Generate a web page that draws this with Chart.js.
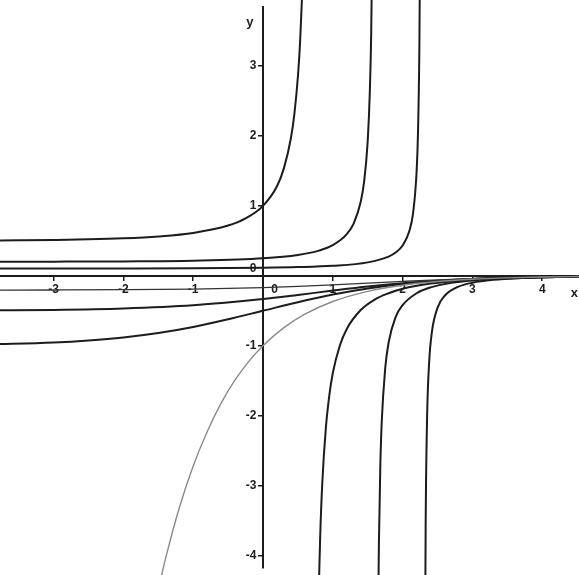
<!DOCTYPE html>
<html>
<head>
<meta charset="utf-8">
<script src="https://cdn.jsdelivr.net/npm/chart.js@4.4.1/dist/chart.umd.min.js"></script>
<style>
    html, body { margin: 0; padding: 0; background: #fff; }
    #wrap { width: 579px; height: 575px; }
</style>
</head>
<body>
<div id="wrap"><canvas id="fieldChart"></canvas></div>
<script>
// Tick values on the two axes
const xTicks = [-3, -2, -1, 0, 1, 2, 3, 4];
const yTicks = [-4, -3, -2, -1, 0, 1, 2, 3];

// Solution curves, as [x, y] pairs
// curve through (0, 1), blows up near x = 0.7
const curveAUpper = [[-3.9, 0.505], [-3.5, 0.508], [-3, 0.513], [-2.5, 0.521], [-2, 0.536], [-1.5, 0.563],
    [-1, 0.613], [-0.5, 0.718], [-0.25, 0.82], [0, 1], [0.2, 1.28], [0.3, 1.54], [0.4, 1.97], [0.45, 2.32],
    [0.5, 2.85], [0.53, 3.32], [0.56, 4.01], [0.58, 4.67]];
const curveALower = [[0.79, -4.92], [0.8, -4.44], [0.82, -3.7], [0.85, -2.95], [0.9, -2.18], [0.95, -1.71],
    [1.0, -1.39], [1.1, -1.0], [1.2, -0.76], [1.4, -0.49], [1.6, -0.34], [1.8, -0.25], [2.0, -0.186],
    [2.4, -0.111], [3.0, -0.055], [3.5, -0.032], [4.0, -0.019], [4.6, -0.01]];

// second pair, blows up near x = 1.6
const curveBUpper = [[-3.9, 0.2], [-3, 0.202], [-2, 0.206], [-1, 0.216], [0, 0.25], [0.5, 0.298], [0.8, 0.36],
    [1.0, 0.438], [1.2, 0.595], [1.3, 0.751], [1.4, 1.058], [1.45, 1.357], [1.5, 1.93], [1.53, 2.62],
    [1.55, 3.47], [1.57, 5.17]];
const curveBLower = [[1.65, -4.83], [1.66, -3.86], [1.68, -2.74], [1.7, -2.11], [1.75, -1.33], [1.8, -0.95],
    [1.9, -0.59], [2.0, -0.42], [2.2, -0.25], [2.4, -0.166], [2.7, -0.101], [3.0, -0.066], [3.5, -0.036],
    [4.0, -0.02], [4.6, -0.011]];

// third pair, blows up near x = 2.3
const curveCUpper = [[-3.9, 0.103], [-3, 0.104], [-2, 0.1045], [-1, 0.107], [0, 0.115], [0.5, 0.124],
    [1.0, 0.143], [1.5, 0.192], [1.8, 0.274], [1.9, 0.332], [2.0, 0.433], [2.1, 0.652], [2.15, 0.897],
    [2.2, 1.48], [2.22, 2.03], [2.24, 3.26], [2.25, 4.71]];
const curveCLower = [[2.32, -5.68], [2.33, -3.6], [2.35, -2.06], [2.38, -1.24], [2.42, -0.8], [2.5, -0.458],
    [2.6, -0.289], [2.8, -0.155], [3.0, -0.099], [3.3, -0.058], [3.7, -0.033], [4.2, -0.018], [4.6, -0.011]];

// negative curves that level off on the left
const curveD = [[-3.9, -0.98], [-3, -0.953], [-2.5, -0.924], [-2, -0.881], [-1.5, -0.818], [-1, -0.731],
    [-0.5, -0.622], [0, -0.5], [0.5, -0.378], [1.0, -0.269], [1.5, -0.182], [2.0, -0.119], [2.5, -0.076],
    [3.0, -0.047], [3.5, -0.029], [4.0, -0.018], [4.6, -0.01]];
const curveE = [[-3.9, -0.494], [-3, -0.488], [-2, -0.468], [-1, -0.422], [0, -0.333], [0.5, -0.274],
    [1.0, -0.212], [1.5, -0.154], [2.0, -0.107], [2.5, -0.071], [3.0, -0.045], [3.5, -0.029], [4.0, -0.018],
    [4.6, -0.01]];
const curveF = [[-3.9, -0.205], [-3, -0.203], [-2, -0.199], [-1, -0.19], [0, -0.17], [0.5, -0.152],
    [1.0, -0.13], [1.5, -0.106], [2.0, -0.081], [2.5, -0.058], [3.0, -0.04], [3.5, -0.026], [4.0, -0.017],
    [4.6, -0.01]];

// grey curve through (0, -1)
const curveGrey = [[-1.55, -4.71], [-1.4, -4.06], [-1.2, -3.32], [-1.0, -2.72], [-0.8, -2.23], [-0.6, -1.82],
    [-0.4, -1.49], [-0.2, -1.22], [0, -1], [0.3, -0.741], [0.6, -0.549], [1.0, -0.368], [1.5, -0.223],
    [2.0, -0.135], [2.5, -0.082], [3.0, -0.05], [3.5, -0.03], [4.0, -0.018], [4.6, -0.01]];

const ink = '#1c1c1c';

function curve(points, color, width) {
    return {
        data: points.map(([x, y]) => ({ x, y })),
        borderColor: color,
        borderWidth: width,
        pointRadius: 0,
        showLine: true,
        cubicInterpolationMode: 'monotone',
        clip: false
    };
}

// the little "x" and "y" names at the axis ends
const axisNames = {
    id: 'axisNames',
    afterDraw(chart) {
        const { ctx, scales: { x, y } } = chart;
        ctx.save();
        ctx.font = 'bold 13px "Liberation Sans"';
        ctx.fillStyle = ink;
        ctx.textAlign = 'center';
        ctx.textBaseline = 'middle';
        ctx.fillText('y', x.getPixelForValue(-0.19), y.getPixelForValue(3.63));
        ctx.fillText('x', x.getPixelForValue(4.46), y.getPixelForValue(-0.25));
        ctx.restore();
    }
};

Chart.defaults.font.family = '"Liberation Sans", Arial, sans-serif';
Chart.defaults.font.size = 12;
Chart.defaults.font.weight = 'bold';
Chart.defaults.color = ink;

new Chart(document.getElementById('fieldChart').getContext('2d'), {
    type: 'scatter',
    data: {
        datasets: [
            curve(curveGrey, '#8a8a8a', 1.4),
            curve(curveF, '#333', 1.3),
            curve(curveE, ink, 2),
            curve(curveD, ink, 2),
            curve(curveAUpper, ink, 2),
            curve(curveALower, ink, 2),
            curve(curveBUpper, ink, 2),
            curve(curveBLower, ink, 2),
            curve(curveCUpper, ink, 2),
            curve(curveCLower, ink, 2)
        ]
    },
    options: {
        responsive: true,
        maintainAspectRatio: false,
        animation: false,
        layout: { padding: 0 },
        plugins: {
            legend: { display: false },
            tooltip: { enabled: false }
        },
        scales: {
            x: {
                type: 'linear',
                min: -3.768,
                max: 4.527,
                position: { y: 0 },
                afterBuildTicks: axis => { axis.ticks = xTicks.map(v => ({ value: v })); },
                ticks: {
                    padding: 3,
                    maxRotation: 0,
                    autoSkip: false,
                    callback: v => (v === 0 ? '       0' : String(v))
                },
                grid: { drawOnChartArea: false, drawTicks: true, tickLength: 4, color: ink, lineWidth: 1.5 },
                border: { display: true, color: ink, width: 2 }
            },
            y: {
                type: 'linear',
                min: -4.176,
                max: 3.841,
                position: { x: 0 },
                afterBuildTicks: axis => { axis.ticks = yTicks.map(v => ({ value: v })); },
                ticks: {
                    padding: 0,
                    autoSkip: false,
                    // labels sit flush on the axis, so trailing spaces keep them clear of the ticks
                    callback: v => (v === 0 ? ['0  ', ''] : String(v) + '  ')
                },
                grid: { drawOnChartArea: false, drawTicks: true, tickLength: 4, color: ink, lineWidth: 1.5 },
                border: { display: true, color: ink, width: 2 }
            }
        }
    },
    plugins: [axisNames]
});
</script>
</body>
</html>
